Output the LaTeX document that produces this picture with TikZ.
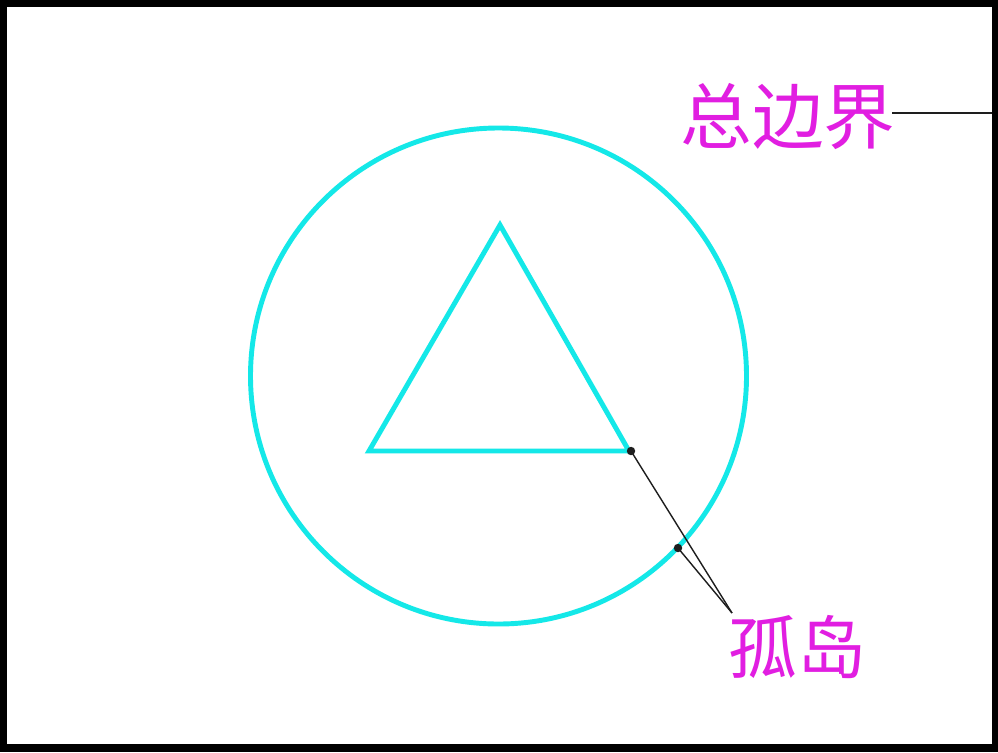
\documentclass[tikz,border=0pt]{standalone}
\usepackage{fontspec}
\newfontfamily\cjk{Noto Sans CJK SC}
\definecolor{cyanline}{RGB}{20,232,232}
\definecolor{labelmag}{RGB}{225,30,225}
\definecolor{leadgray}{RGB}{30,30,30}
\tikzset{
  shapeline/.style={draw=cyanline, line width=3.5pt},
  label/.style={text=labelmag, inner sep=0pt},
  leader/.style={draw=leadgray, line width=1pt},
  dotmark/.style={fill=leadgray, circle, inner sep=0pt, minimum size=6pt}
}
\begin{document}
\begin{tikzpicture}[x=0.025cm, y=-0.025cm]
\useasboundingbox (0,0) rectangle (998,752);
\fill[black] (0,0) rectangle (998,752);
\fill[white] (7,7) rectangle (992,744);
% circle
\draw[shapeline] (498.5,376) circle[radius=248];
% triangle
\coordinate (apex) at (500,225);
\coordinate (bl) at (369,451);
\coordinate (br) at (629,451);
\draw[shapeline, line join=miter] (apex) -- (bl) -- (br) -- cycle;
% labels
\node[label, font=\cjk\fontsize{51}{51}\selectfont] (zong) at (788,116) {总边界};
\node[label, font=\cjk\fontsize{49}{49}\selectfont] (gudao) at (797,647) {孤岛};
\coordinate (zs) at (892,113);
\coordinate (edge) at (992,113);
\draw[leader] (zs) -- (edge);
% leaders
\coordinate (tip) at (732,613);
\node[dotmark] (d1) at (631,451) {};
\node[dotmark] (d2) at (678,548) {};
\draw[leader] (d1.center) -- (tip);
\draw[leader] (d2.center) -- (tip);
\end{tikzpicture}
\end{document}
